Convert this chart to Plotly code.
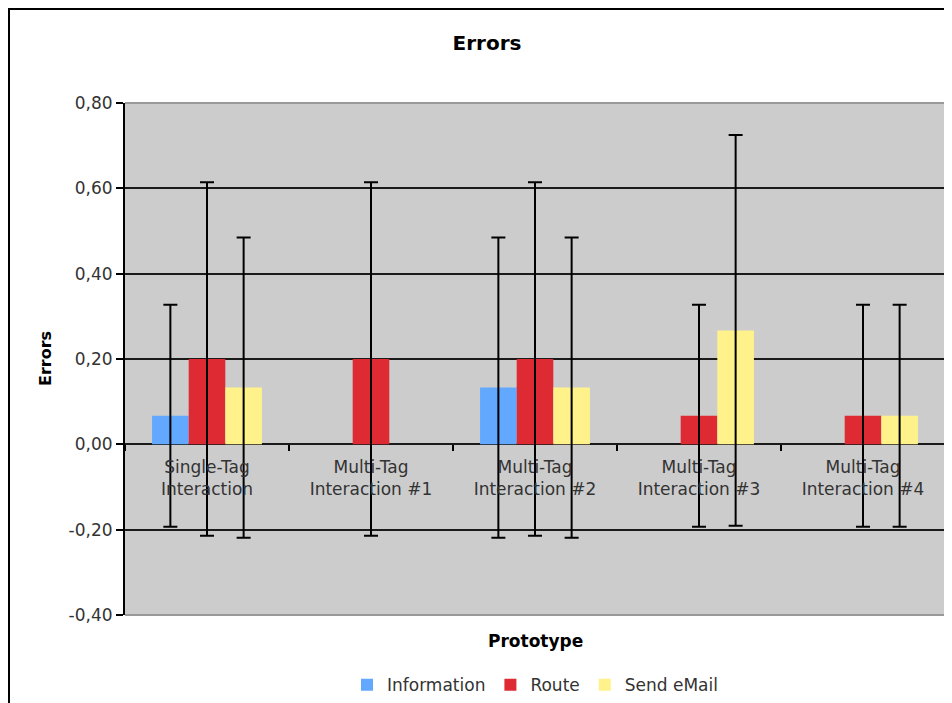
import plotly.graph_objects as go

categories = ["Single-Tag<br>Interaction", "Multi-Tag<br>Interaction #1", "Multi-Tag<br>Interaction #2",
              "Multi-Tag<br>Interaction #3", "Multi-Tag<br>Interaction #4"]
information = [0.067, 0.0, 0.133, 0.0, 0.0]
route = [0.2, 0.2, 0.2, 0.067, 0.067]
send_email = [0.133, 0.0, 0.133, 0.267, 0.067]
information_err = [0.26, None, 0.352, None, None]
route_err = [0.414, 0.414, 0.414, 0.26, 0.26]
send_email_err = [0.352, None, 0.352, 0.458, 0.26]
y_tickvals = [-0.4, -0.2, 0.0, 0.2, 0.4, 0.6, 0.8]
y_ticktext = ["-0,40", "-0,20", "0,00", "0,20", "0,40", "0,60", "0,80"]

FONT = "DejaVu Sans"
series = [
    ("Information", information, information_err, "#62A8FF"),
    ("Route", route, route_err, "#DD2A33"),
    ("Send eMail", send_email, send_email_err, "#FFF28A"),
]

fig = go.Figure()
for name, vals, errs, color in series:
    # zero-valued points have no error bar in the original, so leave them undrawn
    y_drawn = [v if e is not None else None for v, e in zip(vals, errs)]
    fig.add_trace(go.Bar(
        x=categories, y=y_drawn, name=name,
        marker=dict(color=color, line=dict(width=0)),
        error_y=dict(type="data", array=[e if e is not None else 0 for e in errs],
                     visible=True, color="black", thickness=2, width=7),
    ))

# page body has an 8px margin: figure is placed at (8, 8) on screen
W, H = 944, 695
fig.update_layout(
    width=W, height=H,
    margin=dict(l=117, r=7, t=95, b=88, autoexpand=False),
    paper_bgcolor="white", plot_bgcolor="#CCCCCC",
    barmode="group", bargap=0.33, bargroupgap=0,
    font=dict(family=FONT, size=17, color="#333333"),
    title=dict(text="<b>Errors</b>", x=(487 - 8) / W, xanchor="center", y=1 - 35 / H, yanchor="middle",
               font=dict(family=FONT, size=20, color="black")),
    showlegend=True,
    legend=dict(orientation="h", x=0.5, xanchor="center", y=-0.137, yanchor="middle",
                font=dict(family=FONT, size=17, color="#333333"), itemwidth=30,
                bgcolor="rgba(0,0,0,0)"),
    xaxis=dict(anchor="free", position=1 / 3, showline=False, showgrid=False, zeroline=False,
               automargin=False,
               ticks="outside", tickson="boundaries", ticklen=6, tickcolor="black", tickwidth=1.5,
               ticklabelstandoff=11, tickfont=dict(family=FONT, size=17, color="#333333")),
    yaxis=dict(range=[-0.4, 0.8], tickvals=y_tickvals, ticktext=y_ticktext, automargin=False,
               showgrid=True, gridcolor="#1A1A1A", gridwidth=2,
               zeroline=True, zerolinecolor="#1A1A1A", zerolinewidth=2,
               showline=True, linecolor="black", linewidth=2,
               ticks="outside", ticklen=7, tickcolor="black", tickwidth=2,
               tickfont=dict(family=FONT, size=17, color="#333333")),
)

# plot area border (top, right, bottom)
fig.add_shape(type="path", xref="paper", yref="paper",
              path="M 0 1 L 1 1 L 1 0 L 0 0", line=dict(color="#999999", width=2), layer="above")
# outer chart frame
fig.add_shape(type="rect", xref="paper", yref="paper",
              x0=(9 - 125) / 820, x1=(1000 - 125) / 820, y0=-0.3, y1=(615 - 9) / 512,
              line=dict(color="black", width=2), layer="above")

fig.add_annotation(text="<b>Errors</b>", xref="paper", yref="paper", x=(45 - 125) / 820, y=0.5,
                   textangle=-90, showarrow=False, xanchor="center", yanchor="middle",
                   font=dict(family=FONT, size=16, color="black"))
fig.add_annotation(text="<b>Prototype</b>", xref="paper", yref="paper", x=0.5, y=(615 - 641) / 512,
                   showarrow=False, xanchor="center", yanchor="middle",
                   font=dict(family=FONT, size=17, color="black"))

fig.write_html("out.html")
